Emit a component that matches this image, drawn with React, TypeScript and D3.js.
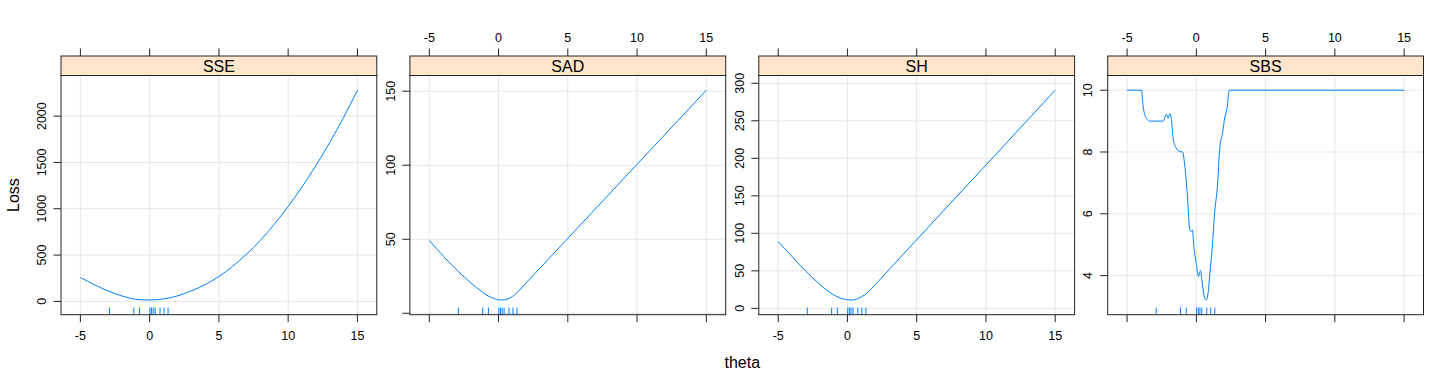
import React from 'react';
import * as d3 from 'd3';

// ---- data ----
const panelNames = ['SSE', 'SAD', 'SH', 'SBS'];
const thetaTicks = [-5, 0, 5, 10, 15];
const rugTheta = [-2.9, -1.14, -0.73, 0.02, 0.14, 0.26, 0.4, 0.75, 1.04, 1.33];

const sseTheta = [-5, -4, -3, -2, -1, 0, 1, 2, 3, 4, 5, 6, 7, 8, 9, 10, 11, 12, 13, 14, 15];
const sseLoss = [258, 181, 113, 59, 23, 15, 27, 59, 113, 181, 269, 380, 510, 660, 833, 1025, 1235, 1465, 1715, 1985, 2280];

const sadTheta = [-5, -2.9, -1.14, -0.73, -0.3, 0, 0.3, 0.6, 1.0, 1.33, 2, 5, 10, 15];
const sadLoss = [49.2, 28.2, 14.2, 11.6, 9.9, 9.1, 8.97, 9.5, 11.3, 13.9, 20.6, 50.6, 100.6, 150.7];

const shTheta = [-5, -4, -3, -2, -1, -0.5, 0, 0.3, 0.6, 1, 1.5, 2, 3, 4, 5, 10, 15];
const shLoss = [89, 69, 49.5, 32, 18, 13.6, 11.5, 11.1, 12, 15, 22, 31.5, 51.5, 71.5, 91.5, 191, 290.8];

const sbsTheta = [-5, -3.96, -3.84, -3.6, -3.36, -2.4, -2.16, -2.04, -1.92, -1.8, -1.68, -1.44, -1.19, -1.0, -0.83, -0.66, -0.47, -0.35, -0.28, -0.18, 0.01, 0.15, 0.3, 0.4, 0.54, 0.69, 0.83, 0.98, 1.17, 1.34, 1.5, 1.7, 1.89, 2.06, 2.22, 2.37, 15];
const sbsLoss = [10, 10, 9.47, 9.09, 9.0, 9.0, 9.22, 9.09, 9.24, 9.06, 8.45, 8.12, 8.01, 8.0, 7.53, 6.67, 5.48, 5.43, 5.48, 4.94, 4.35, 3.97, 4.16, 3.86, 3.38, 3.21, 3.38, 4.08, 5.05, 6.13, 6.77, 8.17, 8.6, 9.13, 9.42, 10, 10];

const sseTicks = [0, 500, 1000, 1500, 2000];
const sadTicks = [0, 50, 100, 150];
const sadTickLabels = ['', '50', '100', '150'];
const shTicks = [0, 50, 100, 150, 200, 250, 300];
const sbsTicks = [4, 6, 8, 10];

const xLabel = 'theta';
const yLabel = 'Loss';

// ---- layout ----
const W = 1440;
const H = 384;
const firstLeft = 61;
const pitch = 348.9;
const panelW = 315.8;
const stripTop = 56;
const stripBottom = 75.5;
const plotBottom = 314.7;
const tickLen = 7.5;
const font = 'Liberation Sans, Arial, Helvetica, sans-serif';
const lineColor = '#0080ff';
const gridColor = '#e6e6e6';
const frameColor = '#222';

interface PanelSpec {
  name: string;
  xs: number[];
  ys: number[];
  ticks: number[];
  labels: string[];
  topLabels: boolean;
}

const panelSpecs: PanelSpec[] = [
  { name: panelNames[0], xs: sseTheta, ys: sseLoss, ticks: sseTicks, labels: sseTicks.map(String), topLabels: false },
  { name: panelNames[1], xs: sadTheta, ys: sadLoss, ticks: sadTicks, labels: sadTickLabels, topLabels: true },
  { name: panelNames[2], xs: shTheta, ys: shLoss, ticks: shTicks, labels: shTicks.map(String), topLabels: false },
  { name: panelNames[3], xs: sbsTheta, ys: sbsLoss, ticks: sbsTicks, labels: sbsTicks.map(String), topLabels: true },
];

function padded(ext: [number, number], f = 0.07): [number, number] {
  const r = ext[1] - ext[0];
  return [ext[0] - f * r, ext[1] + f * r];
}

function Panel({ spec, index }: { spec: PanelSpec; index: number }) {
  const left = firstLeft + index * pitch;
  const right = left + panelW;
  const allX = [...spec.xs];
  const xDom = padded([d3.min(allX) as number, d3.max(allX) as number]);
  const x = d3.scaleLinear().domain(xDom).range([left, right]);
  const yDom = padded(d3.extent(spec.ys) as [number, number]);
  const y = d3.scaleLinear().domain(yDom).range([plotBottom, stripBottom]);
  const pts = spec.xs.map((v, i) => [v, spec.ys[i]] as [number, number]);
  const line = d3
    .line<[number, number]>()
    .x((d) => x(d[0]))
    .y((d) => y(d[1]))
    .curve(d3.curveMonotoneX);
  const plotH = plotBottom - stripBottom;
  const cx = (left + right) / 2;
  return (
    <g>
      {/* grid */}
      {thetaTicks.map((t) => (
        <line key={'gx' + t} x1={x(t)} x2={x(t)} y1={stripBottom} y2={plotBottom} stroke={gridColor} strokeWidth={1} />
      ))}
      {spec.ticks.map((t) => (
        <line key={'gy' + t} x1={left} x2={right} y1={y(t)} y2={y(t)} stroke={gridColor} strokeWidth={1} />
      ))}
      {/* rug */}
      {rugTheta.map((r, i) => (
        <line key={'r' + i} x1={x(r)} x2={x(r)} y1={plotBottom} y2={plotBottom - 0.03 * plotH} stroke={lineColor} strokeWidth={1} />
      ))}
      {/* curve */}
      <path d={line(pts) || ''} fill="none" stroke={lineColor} strokeWidth={1} />
      {/* frame */}
      <rect x={left} y={stripBottom} width={panelW} height={plotBottom - stripBottom} fill="none" stroke={frameColor} strokeWidth={1} />
      {/* strip */}
      <rect x={left} y={stripTop} width={panelW} height={stripBottom - stripTop} fill="#ffe5cc" stroke={frameColor} strokeWidth={1} />
      <text x={cx} y={72.3} textAnchor="middle" fontFamily={font} fontSize={16} fill="#000">
        {spec.name}
      </text>
      {/* x ticks top and bottom */}
      {thetaTicks.map((t) => (
        <g key={'xt' + t}>
          <line x1={x(t)} x2={x(t)} y1={plotBottom} y2={plotBottom + tickLen} stroke={frameColor} strokeWidth={1} />
          <line x1={x(t)} x2={x(t)} y1={stripTop} y2={stripTop - tickLen} stroke={frameColor} strokeWidth={1} />
          {spec.topLabels ? (
            <text x={x(t)} y={42} textAnchor="middle" fontFamily={font} fontSize={12.5} fill="#000">
              {t}
            </text>
          ) : (
            <text x={x(t)} y={340.3} textAnchor="middle" fontFamily={font} fontSize={12.5} fill="#000">
              {t}
            </text>
          )}
        </g>
      ))}
      {/* y ticks */}
      {spec.ticks.map((t, i) => (
        <g key={'yt' + t}>
          <line x1={left - tickLen} x2={left} y1={y(t)} y2={y(t)} stroke={frameColor} strokeWidth={1} />
          <text
            transform={`translate(${left - 15.3},${y(t)}) rotate(-90)`}
            textAnchor="middle"
            fontFamily={font}
            fontSize={12.5}
            fill="#000"
          >
            {spec.labels[i]}
          </text>
        </g>
      ))}
    </g>
  );
}

export default function App() {
  const plotMid = (stripBottom + plotBottom) / 2;
  const figMid = (firstLeft + firstLeft + 3 * pitch + panelW) / 2;
  return (
    <svg
      width={W}
      height={H}
      viewBox={`0 0 ${W} ${H}`}
      style={{ position: 'absolute', left: 0, top: 0, background: '#fff' }}
    >
      <rect x={0} y={0} width={W} height={H} fill="#fff" />
      {panelSpecs.map((s, i) => (
        <Panel key={s.name} spec={s} index={i} />
      ))}
      <text transform={`translate(19.3,${plotMid}) rotate(-90)`} textAnchor="middle" fontFamily={font} fontSize={16} fill="#000">
        {yLabel}
      </text>
      <text x={figMid} y={368.3} textAnchor="middle" fontFamily={font} fontSize={16} fill="#000">
        {xLabel}
      </text>
    </svg>
  );
}
